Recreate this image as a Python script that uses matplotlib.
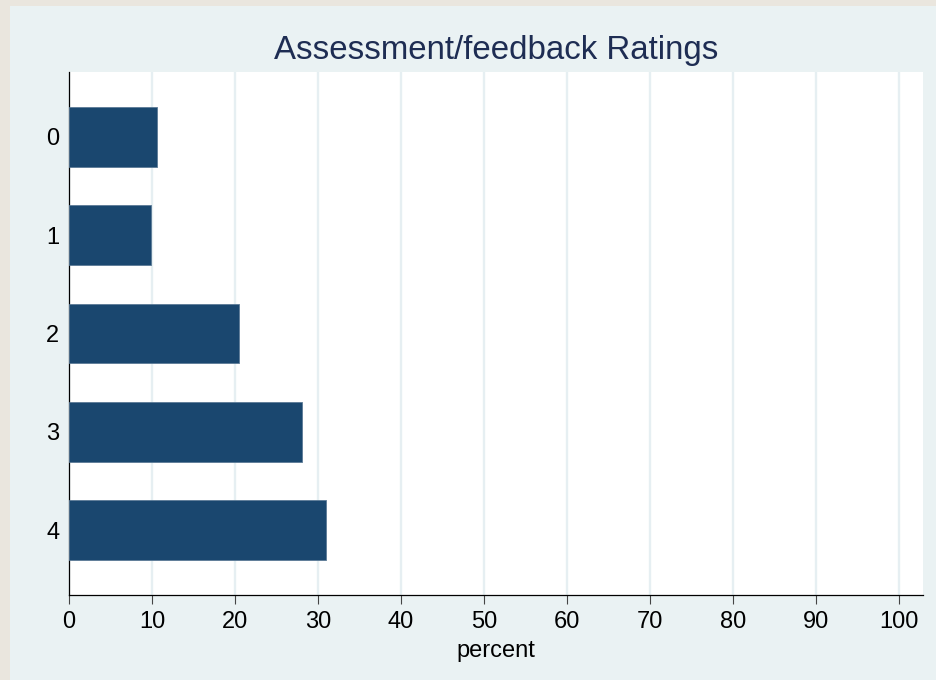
import matplotlib
matplotlib.use("Agg")
import matplotlib.pyplot as plt
from matplotlib.patches import Rectangle

# ratings and share of responses (percent)
ratings = ["0", "1", "2", "3", "4"]
percent = [10.6, 9.9, 20.5, 28.1, 31.0]
xticks = [0, 10, 20, 30, 40, 50, 60, 70, 80, 90, 100]

navy = "#1a476f"
beige = "#eae6de"
panel = "#eaf2f3"

plt.rcParams["font.family"] = ["Liberation Sans", "DejaVu Sans"]

W, H = 936, 680
fig = plt.figure(figsize=(W / 100, H / 100), dpi=100)
fig.patch.set_facecolor(beige)
# inner light panel (beige border shows only on left and top)
fig.patches.append(Rectangle((10 / W, 0), 1 - 10 / W, 1 - 6 / H,
                             transform=fig.transFigure, facecolor=panel,
                             edgecolor="none", zorder=-10))

ax = fig.add_axes([69 / W, (H - 594.7) / H, (923 - 69) / W, (594.7 - 72) / H])
ax.set_facecolor("white")

pos = list(range(len(ratings)))
ax.barh(pos, percent, height=0.607, color=navy, edgecolor="#5b7a96",
        linewidth=0.6, zorder=3)

ax.set_ylim(4.655, -0.66)
ax.set_xlim(0, 102.9)
ax.set_yticks(pos)
ax.set_yticklabels(ratings)
ax.set_xticks(xticks)

ax.grid(axis="x", color="#e6eff2", linewidth=1.7, zorder=0)
ax.set_axisbelow(True)

for s in ["top", "right"]:
    ax.spines[s].set_visible(False)
for s in ["left", "bottom"]:
    ax.spines[s].set_color("black")
    ax.spines[s].set_linewidth(0.9)

ax.tick_params(axis="x", length=6.5, width=0.8, color="#444444",
               labelsize=17, pad=5)
ax.tick_params(axis="y", length=0, labelsize=17, pad=7)

ax.set_xlabel("percent", fontsize=17, labelpad=5)
ax.set_title("Assessment/feedback Ratings", fontsize=23.8, color="#1e2d53",
             pad=9.5)

fig.savefig("out.png", dpi=100, facecolor=fig.get_facecolor())
